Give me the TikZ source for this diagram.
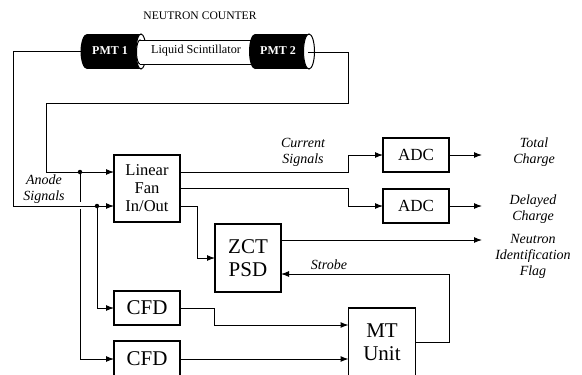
\documentclass[tikz,border=0pt]{standalone}
\usepackage{fontspec}
\setmainfont{Liberation Serif}
\usetikzlibrary{arrows.meta,positioning,calc}

\begin{document}
\begin{tikzpicture}[
x=1pt, y=-1pt,
unit/.style={draw, line width=1.9pt, align=center, minimum width=66pt, inner sep=0pt, outer sep=0pt},
big/.style={font=\fontsize{21}{23}\selectfont},
tag/.style={align=center, inner sep=0pt, font=\fontsize{14}{16}\selectfont\itshape},
tube/.style={draw=black, fill=white, line width=1pt},
line/.style={-{Latex[length=8pt,width=6pt]}, line width=1pt},
wire/.style={line width=1pt},
hub/.style={circle, fill=black, inner sep=0pt, minimum size=4.5pt}
]
\clip (0,0) rectangle (582,375);
\fill[white] (0,0) rectangle (582,375);

% --- Counter ---
\node[inner sep=0pt, font=\fontsize{11.6}{13}\selectfont] (title) at (200,16) {NEUTRON COUNTER};
\fill (87,34) rectangle (141,69);
\fill (87,51.5) ellipse[x radius=6.5, y radius=17.5];
\draw[tube] (141,51.5) ellipse[x radius=5, y radius=17.5];
\draw[tube] (140,52) ellipse[x radius=3.5, y radius=12];
\fill[white] (140,40) rectangle (252,64);
\draw[wire] (140,40) -- (252,40) (140,64) -- (252,64);
\fill (255,34) rectangle (308,69);
\fill (255,51.5) ellipse[x radius=6, y radius=17.5];
\draw[tube] (309,51.5) ellipse[x radius=5.5, y radius=17.5];
\node[inner sep=0pt, text=white, font=\bfseries\fontsize{12}{14}\selectfont] (pmtA) at (110,51) {PMT 1};
\node[inner sep=0pt, text=white, font=\bfseries\fontsize{12}{14}\selectfont] (pmtB) at (278,51) {PMT 2};
\node[inner sep=0pt, font=\fontsize{12.2}{14}\selectfont] (liquid) at (196,51) {Liquid Scintillator};
\coordinate (pmtAout) at (81,51);
\coordinate (pmtBout) at (308,52);

% --- Input stage ---
\node[unit, minimum height=67pt, font=\fontsize{16.5}{18}\selectfont] (fan) at (147,188.5) {Linear\\Fan\\In/Out};
\node[unit, big, minimum height=34pt] (cfdA) at (147,308) {CFD};
\node[unit, big, minimum height=36pt] (cfdB) at (147,359) {CFD};

% --- Digitising stage ---
\node[unit, minimum height=34pt, font=\fontsize{17}{18}\selectfont] (adcA) at (416,155) {ADC};
\node[unit, minimum height=34pt, font=\fontsize{17}{18}\selectfont] (adcB) at (416,206) {ADC};

% --- Timing stage ---
\node[unit, big, minimum height=68pt] (psd) at (248,258) {ZCT\\PSD};
\node[unit, big, minimum height=69pt, minimum width=67pt] (mt) at (382,342.5) {MT\\Unit};

% --- Labels ---
\node[tag] (current) at (303,152) {Current\\Signals};
\node[tag] (anode) at (44,189) {Anode\\Signals};
\node[tag] (strobe) at (329,265) {Strobe};
\node[tag] (total) at (534,152) {Total\\Charge};
\node[tag] (delayed) at (533,209) {Delayed\\Charge};
\node[tag] (flag) at (533,256) {Neutron\\Identification\\Flag};

% --- Free ends ---
\coordinate (endA) at (482,155);
\coordinate (endB) at (482,206);
\coordinate (endC) at (482,240);
\node[hub] (hubA) at (80,172) {};
\node[hub] (hubB) at (97,206) {};

% --- Connections ---
\draw[line] (pmtAout) -- (13,51) |- (fan.west |- hubB);
\draw[line] (pmtBout) -- (348,52) |- (46,103) |- (fan.west |- hubA);

\draw[wire] (hubA) -- (80,202);
\draw[line] (80,209) |- (cfdB);
\draw[line] (hubB) |- (cfdA);

\draw[line] (fan.east |- adcA.south) -- (348,172) |- (adcA);
\draw[line] (fan.east) -- (348,188.5) |- (adcB);
\draw[line] (fan.east |- adcB) -- (197,206) |- (psd);

\draw[line] (adcA) -- (endA);
\draw[line] (adcB) -- (endB);
\draw[line] (psd.east |- endC) -- (endC);

\draw[line] (cfdA) -- (214,308) |- (mt.west |- cfdA.south);
\draw[line] (cfdB) -- (mt.west |- cfdB);
\draw[line] (mt.east |- 0,342) -- (449,342) |- (psd.east |- 0,274);
\end{tikzpicture}
\end{document}
